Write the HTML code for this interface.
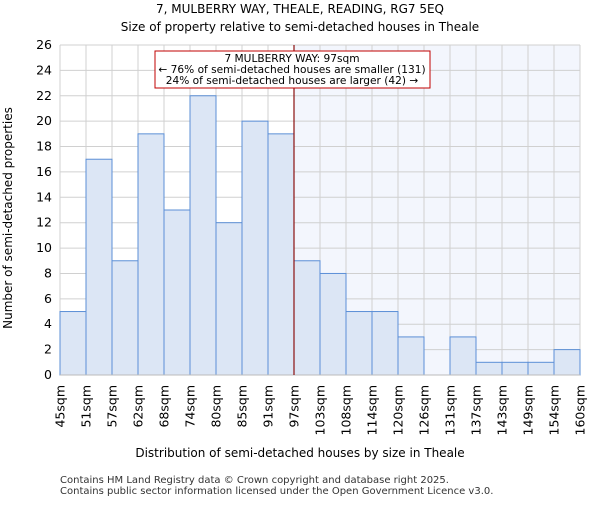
<!DOCTYPE html>
<html><head><meta charset="utf-8"><style>body{margin:0;background:#fff}svg{font-family:"DejaVu Sans","Liberation Sans",sans-serif}</style></head>
<body>
<svg id="c" width="600" height="500" xmlns="http://www.w3.org/2000/svg">
<text x="300" y="13" text-anchor="middle" font-size="12">7, MULBERRY WAY, THEALE, READING, RG7 5EQ</text>
<text x="300" y="31" text-anchor="middle" font-size="12">Size of property relative to semi-detached houses in Theale</text>
<g id="plot"></g>
<text x="300" y="457" text-anchor="middle" font-size="12">Distribution of semi-detached houses by size in Theale</text>
<text transform="translate(12,218) rotate(-90)" text-anchor="middle" font-size="12">Number of semi-detached properties</text>
<text x="60" y="483" font-size="10" fill="#333">Contains HM Land Registry data © Crown copyright and database right 2025.</text>
<text x="60" y="494" font-size="10" fill="#333">Contains public sector information licensed under the Open Government Licence v3.0.</text>
</svg>
<script>
const categories=["45sqm","51sqm","57sqm","62sqm","68sqm","74sqm","80sqm","85sqm","91sqm","97sqm","103sqm","108sqm","114sqm","120sqm","126sqm","131sqm","137sqm","143sqm","149sqm","154sqm","160sqm"];
const counts=[5,17,9,19,13,22,12,20,19,9,8,5,5,3,0,3,1,1,1,2];
const yTicks=[0,2,4,6,8,10,12,14,16,18,20,22,24,26];
const markerIndex=9;
const L=60,R=580,T=45,B=375,yMax=26;
const bw=(R-L)/counts.length;
const x=i=>L+i*bw;
const y=v=>B-v/yMax*(B-T);
const g=document.getElementById('plot');
const NS="http://www.w3.org/2000/svg";
function mk(t,a){const e=document.createElementNS(NS,t);for(const k in a)e.setAttribute(k,a[k]);g.appendChild(e);return e;}
let e=mk('rect',{x:x(markerIndex),y:T,width:R-x(markerIndex),height:B-T,fill:'#f3f6fd'});


yTicks.forEach(v=>{
 let l=mk('line',{x1:L,x2:R,y1:y(v),y2:y(v),stroke:'#d0d0d0','stroke-width':1});
 
 
 let t=mk('text',{x:L-8,y:y(v)+4,'text-anchor':'end','font-size':12.5});t.textContent=v;
 
 
});
categories.forEach((c,i)=>{
 let l=mk('line',{x1:x(i),x2:x(i),y1:T,y2:B,stroke:'#d0d0d0','stroke-width':1});
 
 
 let t=mk('text',{transform:`translate(${x(i)+4.5},${B+10}) rotate(-90)`,'text-anchor':'end','font-size':12.5});t.textContent=c;
 
 
});
counts.forEach((v,i)=>{
 if(v<=0)return;
 let r=mk('rect',{x:x(i),y:y(v),width:bw,height:B-y(v),fill:'#dce6f5',stroke:'#5b8fd6','stroke-width':1});
 
 
});
e=mk('line',{x1:L,x2:R,y1:B,y2:B,stroke:'#bbb'});


e=mk('line',{x1:x(markerIndex),x2:x(markerIndex),y1:T,y2:B,stroke:'#8b1010','stroke-width':1.2});


e=mk('rect',{x:155,y:51,width:275,height:37,fill:'#fff',stroke:'#c00000','stroke-width':1});


[["7 MULBERRY WAY: 97sqm",62],["← 76% of semi-detached houses are smaller (131)",73],["24% of semi-detached houses are larger (42) →",84]].forEach(([s,yy])=>{
 let t=mk('text',{x:292,y:yy,'text-anchor':'middle','font-size':10.6});t.textContent=s;
 
 
});
</script>
</body></html>
